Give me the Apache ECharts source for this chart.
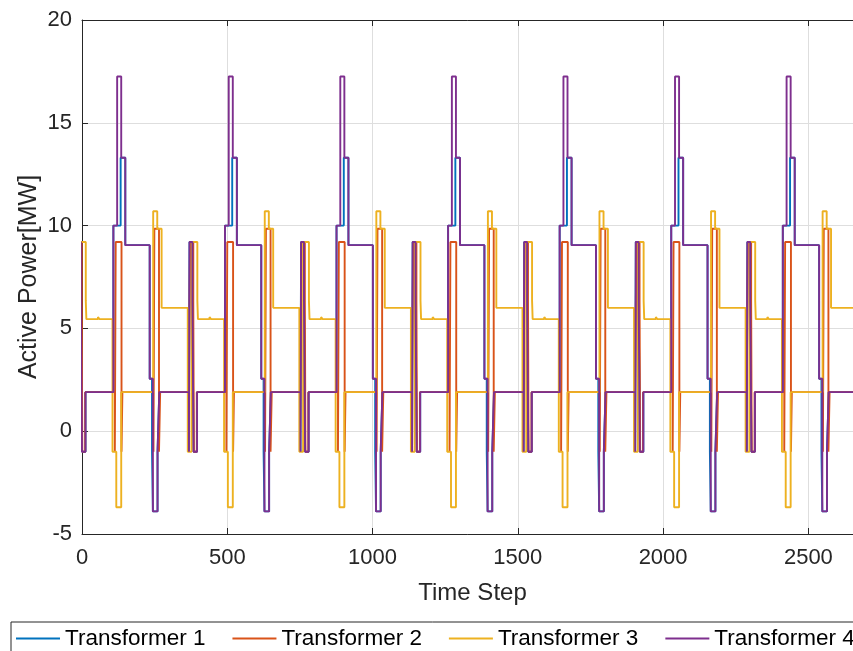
<!DOCTYPE html>
<html>
<head>
<meta charset="utf-8">
<script src="https://cdn.jsdelivr.net/npm/echarts@6/dist/echarts.min.js"></script>
<style>
html,body{margin:0;padding:0;background:#fff;}
#chart{width:853px;height:651px;}
</style>
</head>
<body>
<div id="chart"></div>
<script>
// ---- data (one repeating daily pattern, 384 steps) ----
const seriesNames = ['Transformer 1', 'Transformer 2', 'Transformer 3', 'Transformer 4'];
const seriesColors = ['#0072BD', '#D95319', '#EDB120', '#7E2F8E'];

// start step of each repeated period (the pattern seen 7 times in the picture)
const periodStarts = [-384, 0, 384, 768, 1152, 1536, 1920, 2304, 2688];

// Transformer 1 : step breakpoints within one period
const t1Times  = [0,    12,  108,  133,  149,  233,  241,  244,  260,  266,  368,  370, 380];
const t1Values = [-1.0, 1.9, 10.0, 13.3, 9.05, 2.55, -1.0, -3.9, -1.0, 1.9, -1.0, 9.2, 6.35];

// Transformer 2
const t2Times  = [0,    1,    11,  113,  116, 136,  139, 246,  249,  265,  269, 366,  372, 383];
const t2Values = [6.35, -1.0, 1.9, -1.0, 9.2, -1.0, 1.9, -1.0, 9.85, -1.0, 1.9, -1.0, 9.2, 6.35];

// Transformer 3
const t3Times  = [0,   13,   15,   55,   60,   105,  118,  135, 245,  259,  274, 320,  326, 364,  377];
const t3Values = [9.2, 6.35, 5.45, 5.55, 5.45, -1.0, -3.7, 1.9, 10.7, 9.85, 6.0, 6.08, 6.0, -1.0, 9.2];

// Transformer 4
const t4Times  = [0,    12,  108,  121,   135,  149,  200,  204,  233,  244,  260,  266, 368,  370, 380];
const t4Values = [-1.0, 1.9, 10.0, 17.25, 13.3, 9.05, 9.12, 9.05, 2.55, -3.9, -1.0, 1.9, -1.0, 9.2, 6.35];

// axes
const xTickValues = [0, 500, 1000, 1500, 2000, 2500];
const xMax = 2688;
const yTickValues = [-5, 0, 5, 10, 15, 20];

// ---- build ----
function build(times, values) {
  const out = [];
  periodStarts.forEach(function (s) {
    for (let i = 0; i < times.length; i++) out.push([s + times[i], values[i]]);
  });
  return out;
}
const allTimes = [t1Times, t2Times, t3Times, t4Times];
const allValues = [t1Values, t2Values, t3Values, t4Values];

const FONT = 'Liberation Sans, Arial, Helvetica, sans-serif';
const AX = '#262626';
const GRID = '#dedede';

const chart = echarts.init(document.getElementById('chart'), null, {renderer: 'canvas'});

const series = seriesNames.map(function (name, i) {
  return {
    name: name,
    type: 'line',
    step: 'end',
    symbol: 'none',
    showSymbol: false,
    data: build(allTimes[i], allValues[i]),
    lineStyle: {width: 1.9, color: seriesColors[i]},
    itemStyle: {color: seriesColors[i]},
    emphasis: {disabled: true},
    animation: false,
    clip: true
  };
});

const xStep = xTickValues[1] - xTickValues[0];
const yStep = yTickValues[1] - yTickValues[0];

chart.setOption({
  backgroundColor: '#ffffff',
  animation: false,
  textStyle: {fontFamily: FONT},
  grid: {left: 82, top: 20, width: 781, height: 514, containLabel: false, outerBoundsMode: 'none'},
  legend: {
    data: seriesNames.map(function (n) { return {name: n, icon: 'rect'}; }),
    left: 11, top: 622,
    orient: 'horizontal',
    width: 1400,
    itemWidth: 44, itemHeight: 2, itemGap: 27,
    padding: [5, 30, 5, 5],
    borderColor: AX, borderWidth: 1,
    backgroundColor: '#ffffff',
    textStyle: {fontSize: 22.5, color: '#000', fontFamily: FONT}
  },
  xAxis: [{
    type: 'value',
    min: xTickValues[0], max: xMax, interval: xStep,
    position: 'bottom',
    name: 'Time Step', nameLocation: 'middle', nameGap: 47, nameMoveOverlap: false,
    nameTextStyle: {fontSize: 24, color: AX, fontFamily: FONT},
    axisLine: {show: true, onZero: false, lineStyle: {color: AX, width: 1}},
    axisTick: {show: true, inside: true, length: 6, lineStyle: {color: AX}},
    axisLabel: {fontSize: 22, color: AX, margin: 13, fontFamily: FONT,
      formatter: function (v) { return xTickValues.indexOf(v) >= 0 ? String(v) : ''; }},
    splitLine: {show: true, lineStyle: {color: GRID, width: 1}}
  }, {
    type: 'value',
    min: xTickValues[0], max: xMax, interval: xStep,
    position: 'top',
    axisLine: {show: true, onZero: false, lineStyle: {color: AX, width: 1}},
    axisTick: {show: true, inside: true, length: 6, lineStyle: {color: AX}},
    axisLabel: {show: false},
    splitLine: {show: false}
  }],
  yAxis: [{
    type: 'value',
    min: yTickValues[0], max: yTickValues[yTickValues.length - 1], interval: yStep,
    name: 'Active Power[MW]', nameLocation: 'middle', nameGap: 40, nameRotate: 90, nameMoveOverlap: false,
    nameTextStyle: {fontSize: 25, color: AX, fontFamily: FONT},
    axisLine: {show: true, onZero: false, lineStyle: {color: AX, width: 1}},
    axisTick: {show: true, inside: true, length: 6, lineStyle: {color: AX}},
    axisLabel: {fontSize: 22, color: AX, margin: 10, fontFamily: FONT},
    splitLine: {show: true, lineStyle: {color: GRID, width: 1}}
  }],
  series: series
});
</script>
</body>
</html>
